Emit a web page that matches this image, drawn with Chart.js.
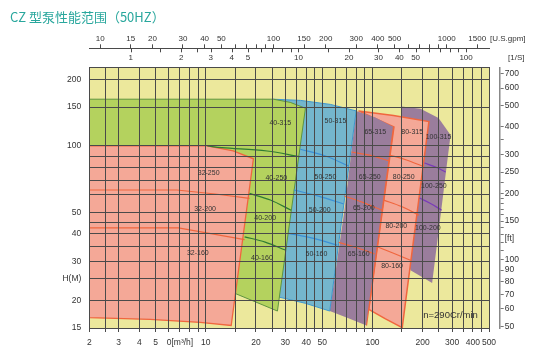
<!DOCTYPE html>
<html>
<head>
<meta charset="utf-8">
<script src="https://cdn.jsdelivr.net/npm/chart.js@4.4.1/dist/chart.umd.min.js"></script>
<style>
  body { margin: 0; background: #fff; }
  #wrap { position: relative; width: 543px; height: 360px; }
  #title {
    position: absolute; left: 10px; top: 10px;
    font: 13px/14px "Noto Sans CJK SC", sans-serif; color: #29a79d;
  }
</style>
</head>
<body>
<div id="wrap">
  <canvas id="c" width="543" height="360"></canvas>
  <div id="title">CZ 型泵性能范围（50HZ）</div>
</div>
<script>
// range outlines: flow Q [m3/h] against head H [m]
const q32 = [2, 10.2, 14.6, 19.3, 14.2, 9.25, 4.63, 2];
const h32 = [100, 100, 94.9, 87.5, 15.4, 15.9, 16.4, 16.7];
const q40 = [2, 25.4, 32.1, 39.6, 26.9, 15.0, 2];
const h40 = [162.8, 162.8, 157.5, 148.2, 17.9, 21.5, 21.5];
const q50 = [25.4, 36.9, 55.9, 79.8, 55.4, 39.6, 27.5];
const h50 = [162.8, 160.8, 154.2, 144.1, 17.9, 19.4, 20.7];
const q65 = [79.8, 104, 133.7, 92.1, 71.7, 55.4, 67.9];
const h65 = [144.1, 134.7, 122, 15.4, 16.6, 17.9, 51.2];
const q80 = [82.4, 133.7, 218, 150.8, 119.7, 95, 134.5];
const h80 = [144.1, 137.5, 128.9, 15.06, 16.5, 18.2, 122];
const q100 = [149.4, 194.3, 249, 294, 228, 169, 137.5];
const h100 = [151, 147.2, 134, 112.2, 24.0, 27.4, 56.9];

// impeller cut lines inside each range (null splits one curve from the next)
const cut32Q = [2, 6.7, 11.4, 18.3, null, 2, 6.85, 17.1];
const cut32H = [63.2, 63.2, 60.6, 57.9, null, 42.6, 42.6, 37.7];
const cut40Q = [10.2, 12.5, 23.3, 36.6, null, 18.3, 24.4, 32.5, null, 17.1, 22.7, 30];
const cut40H = [100, 98.2, 94.9, 89.4, null, 61.0, 56.9, 51.2, null, 38.8, 36.7, 33.8];
const cut50Q = [36.9, 52.2, 72.0, null, 33.7, 47.4, 67.2, null, 31.4, 43.6, 61.4];
const cut50H = [96.6, 90.1, 81.1, null, 63.2, 59.3, 54.6, null, 40.2, 38.3, 35.6];
// last pair is the 65/80 border
const cut65Q = [74.8, 97.3, 126.5, null, 67.9, 88.3, 114.8, null, 62.7, 80.1, 102.8, null, 133.7, 92.1];
const cut65H = [93.9, 90.6, 85.5, null, 59.3, 55.4, 51.0, null, 36.6, 34.7, 32.5, null, 122, 15.4];
const cut80Q = [126.5, 160, 202.5, null, 117, 149.4, 189.8, null, 106.7, 133.7, 169];
const cut80H = [91.0, 86.4, 80.6, null, 56.9, 53.2, 48.6, null, 35.0, 32.7, 30.4];
const cut100Q = [205, 239, 274.6, null, 191.6, 223, 260];
const cut100H = [83.7, 80.3, 76.2, null, 58.1, 54.9, 51.2];

// model names written inside the ranges
const modelText = ['32-250', '32-200', '32-160', '40-315', '40-250', '40-200', '40-160',
  '50-315', '50-250', '50-200', '50-160', '65-315', '65-250', '65-200', '65-160',
  '80-315', '80-250', '80-200', '80-160', '100-315', '100-250', '100-200'];
const modelQ = [10.4, 9.9, 8.96, 28, 26.5, 22.7, 21.7, 59.9, 52.2, 48.2, 46.1,
  104, 96.3, 88.7, 82.7, 173, 154, 139, 131, 249, 233.6, 215];
const modelH = [75.2, 51.8, 32.8, 126.7, 71.4, 47.3, 31.0, 130.2, 72.2, 51.2, 32.3,
  116.1, 72.2, 52.2, 32.3, 116.1, 72.2, 43.4, 28.6, 110.2, 66.1, 42.3];
const speedText = 'n=290Cr/min';
const speedQ = 294;
const speedH = 17.1;

// axes
const qGrid = [2, 2.5, 3, 4, 5, 6, 7, 8, 9, 10, 15, 20, 25, 30, 35, 40, 45, 50,
  60, 70, 80, 90, 100, 150, 200, 250, 300, 350, 400, 450, 500];
const qLabelAt = [2, 3, 4, 5, 7, 10, 20, 30, 40, 50, 100, 200, 300, 400, 500];
const qLabelText = ['2', '3', '4', '5', '0[m³/h]', '10', '20', '30', '40', '50', '100', '200', '300', '400', '500'];
const hGrid = [15, 20, 25, 30, 35, 40, 45, 50, 60, 70, 80, 90, 100, 150, 200];
const hLabelAt = [15, 20, 25, 30, 40, 50, 100, 150, 200];
const hLabelText = ['15', '20', 'H(M)', '30', '40', '50', '100', '150', '200'];
const ftTicks = [50, 60, 70, 80, 90, 100, 110, 120, 125, 130, 140, 150, 160, 170, 180, 190,
  200, 225, 250, 300, 350, 400, 500, 600, 700];
const ftLabelAt = [50, 60, 70, 80, 90, 100, 125, 150, 200, 250, 300, 400, 500, 600, 700];
const ftLabelText = ['50', '60', '70', '80', '90', '100', '[ft]', '150', '200', '250', '300', '400', '500', '600', '700'];
const gpmTicks = [10, 15, 20, 30, 40, 50, 60, 70, 80, 90, 100, 150, 200, 300, 400, 500,
  600, 700, 800, 900, 1000, 1500];
const gpmLabelAt = [10, 15, 20, 30, 40, 50, 100, 150, 200, 300, 400, 500, 1000, 1500];
const lsTicks = [1, 1.5, 2, 2.5, 3, 4, 5, 6, 7, 8, 9, 10, 15, 20, 30, 40, 50, 60, 70, 80, 90, 100];
const lsLabelAt = [1, 2, 3, 4, 5, 10, 20, 30, 40, 50, 100];

const Q_MIN = 2, Q_MAX = 500, H_MIN = 15, H_MAX = 227;
const GPM_MIN = 8.64, GPM_MAX = 1754, LS_MIN = 0.566, LS_MAX = 137;
const M2FT = 3.28084;

const FONT = '"Liberation Sans", Arial, sans-serif';
const GRID = '#4a4a4a';
const TXT = '#333';
const YELLOW = '#ece89c';
const SALMON = '#f4a897';
const GREEN = '#b4d25e';
const BLUE = '#74b6cd';
const PURPLE = '#9a7d9c';
const ORANGE = '#f0663e';

const pts = (qs, hs) => qs.map((q, i) => ({ x: q, y: hs[i] }));
const ring = (qs, hs) => { const p = pts(qs, hs); return p.concat([p[0]]); };
const fixedTicks = list => axis => { axis.ticks = list.map(v => ({ value: v })); };
const labelFrom = (at, text) => v => { const i = at.indexOf(v); return i < 0 ? '' : text[i]; };
const clear = 'rgba(0,0,0,0)';

function range(qs, hs, fill, edge, order, width) {
  return {
    data: ring(qs, hs), xAxisID: 'x', yAxisID: 'y', order,
    backgroundColor: fill, borderColor: edge, borderWidth: width,
    fill: 'shape', tension: 0, pointRadius: 0
  };
}

function cuts(qs, hs, color, tension) {
  return {
    data: pts(qs, hs), xAxisID: 'x', yAxisID: 'y', order: 0,
    borderColor: color, borderWidth: 1.2, fill: false,
    tension, pointRadius: 0, spanGaps: false
  };
}

const plotBg = {
  id: 'plotBg',
  beforeDatasetsDraw(chart) {
    const { ctx, chartArea: a } = chart;
    ctx.save();
    ctx.fillStyle = YELLOW;
    ctx.fillRect(a.left, a.top, a.right - a.left, a.bottom - a.top);
    ctx.restore();
  }
};

const texts = {
  id: 'texts',
  afterDraw(chart) {
    const { ctx, scales } = chart;
    const { x, y, gpm, ls } = scales;
    ctx.save();
    // 1/S ticks hang below the shared top rule
    ctx.strokeStyle = GRID;
    ctx.lineWidth = 1;
    lsTicks.forEach(v => {
      const px = Math.round(ls.getPixelForValue(v)) + 0.5;
      ctx.beginPath();
      ctx.moveTo(px, gpm.bottom);
      ctx.lineTo(px, gpm.bottom + 4);
      ctx.stroke();
    });

    ctx.fillStyle = TXT;
    ctx.textAlign = 'center';
    ctx.textBaseline = 'middle';
    ctx.font = '7px ' + FONT;
    modelText.forEach((t, i) => {
      ctx.fillText(t, x.getPixelForValue(modelQ[i]), y.getPixelForValue(modelH[i]));
    });
    ctx.font = '9.5px ' + FONT;
    ctx.fillText(speedText, x.getPixelForValue(speedQ), y.getPixelForValue(speedH));

    ctx.textAlign = 'left';
    ctx.font = '8px ' + FONT;
    ctx.fillText('[U.S.gpm]', gpm.right + 1, gpm.bottom - 9.6);
    ctx.fillText('[1/S]', ls.right + 19, ls.bottom - 10);
    ctx.restore();
  }
};

const tickFont = { family: FONT, size: 8.5 };

new Chart(document.getElementById('c'), {
  type: 'line',
  data: {
    datasets: [
      range(q100, h100, PURPLE, clear, 6, 0),
      range(q80, h80, SALMON, ORANGE, 5, 1.5),
      range(q65, h65, PURPLE, clear, 4, 0),
      range(q50, h50, BLUE, '#3d96d0', 3, 1),
      range(q40, h40, GREEN, '#5e9440', 2, 1),
      range(q32, h32, SALMON, ORANGE, 1, 1.3),
      cuts(cut32Q, cut32H, ORANGE, 0),
      cuts(cut40Q, cut40H, '#2e7d32', 0.35),
      cuts(cut50Q, cut50H, '#3a8fd6', 0.35),
      cuts(cut65Q, cut65H, ORANGE, 0.35),
      cuts(cut80Q, cut80H, ORANGE, 0.35),
      cuts(cut100Q, cut100H, '#7a3bb8', 0.35)
    ]
  },
  options: {
    responsive: false,
    animation: false,
    devicePixelRatio: 1,
    events: [],
    layout: { padding: 0 },
    plugins: { legend: { display: false }, tooltip: { enabled: false } },
    scales: {
      x: {
        type: 'logarithmic', axis: 'x', position: 'bottom', min: Q_MIN, max: Q_MAX, z: 1,
        afterFit: s => { s.height = 32; },
        afterBuildTicks: fixedTicks(qGrid),
        grid: { color: GRID, lineWidth: 1, drawTicks: true, tickLength: 4, z: 1 },
        border: { color: GRID, z: 1 },
        ticks: {
          autoSkip: false, maxRotation: 0, padding: 6, color: TXT, font: tickFont, z: 1,
          callback: labelFrom(qLabelAt, qLabelText)
        }
      },
      y: {
        type: 'logarithmic', axis: 'y', position: 'left', min: H_MIN, max: H_MAX, z: 1,
        afterFit: s => { s.width = 89.3; },
        afterBuildTicks: fixedTicks(hGrid),
        grid: { color: GRID, lineWidth: 1, drawTicks: false, z: 1 },
        border: { color: GRID, z: 1 },
        ticks: {
          autoSkip: false, padding: 8, color: TXT, font: tickFont, z: 1,
          callback: labelFrom(hLabelAt, hLabelText)
        }
      },
      ls: {
        type: 'logarithmic', axis: 'x', position: 'top', weight: 0, min: LS_MIN, max: LS_MAX, z: 1,
        afterFit: s => { s.height = 19; },
        afterBuildTicks: fixedTicks(lsTicks),
        grid: { drawOnChartArea: false, drawTicks: false, z: 1 },
        border: { color: GRID, z: 1 },
        ticks: {
          autoSkip: false, maxRotation: 0, padding: 4.6, color: TXT, font: { family: FONT, size: 8 },
          callback: labelFrom(lsLabelAt, lsLabelAt.map(String))
        }
      },
      gpm: {
        type: 'logarithmic', axis: 'x', position: 'top', weight: 1, min: GPM_MIN, max: GPM_MAX,
        afterFit: s => { s.height = 48.3; },
        afterBuildTicks: fixedTicks(gpmTicks),
        grid: { drawOnChartArea: false, drawTicks: true, tickLength: 4, color: GRID },
        border: { color: GRID },
        ticks: {
          autoSkip: false, maxRotation: 0, padding: 0.5, color: TXT, font: { family: FONT, size: 8 },
          callback: labelFrom(gpmLabelAt, gpmLabelAt.map(String))
        }
      },
      sp: {
        type: 'linear', axis: 'y', position: 'right', weight: 0,
        afterFit: s => { s.width = 10.7; },
        grid: { display: false, drawTicks: false },
        border: { display: false },
        ticks: { display: false }
      },
      ft: {
        type: 'logarithmic', axis: 'y', position: 'right', weight: 1,
        min: H_MIN * M2FT, max: H_MAX * M2FT,
        afterFit: s => { s.width = 43.3; },
        afterBuildTicks: fixedTicks(ftTicks),
        grid: {
          drawOnChartArea: false, drawTicks: true, tickLength: 4, color: '#777',
          tickColor: c => (c.tick && c.tick.value === 125 ? clear : '#777')
        },
        border: { color: '#888', width: 1.5 },
        ticks: {
          autoSkip: false, padding: 1, color: TXT, font: tickFont,
          callback: labelFrom(ftLabelAt, ftLabelText)
        }
      }
    }
  },
  plugins: [plotBg, texts]
});
</script>
</body>
</html>
